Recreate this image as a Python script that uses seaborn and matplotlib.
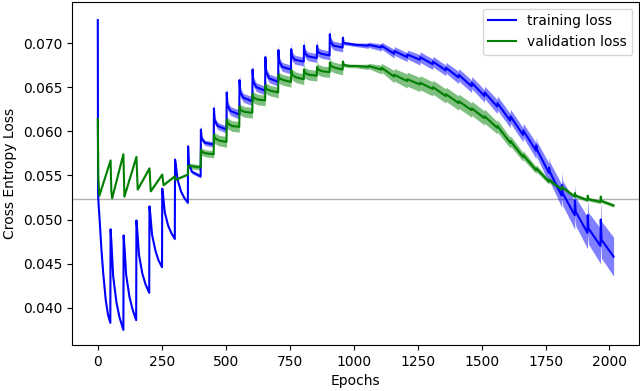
import numpy as np
import matplotlib
matplotlib.use("Agg")
import matplotlib.pyplot as plt
import seaborn as sns

# training loss (mean) and spread of the shaded band
train_epochs = [
    0, 1, 3, 8, 14, 21, 31, 40, 49,
    50, 53, 60, 73, 85, 100,
    101, 104, 111, 124, 136, 150,
    151, 154, 161, 174, 186, 201,
    202, 205, 212, 225, 237, 251,
    252, 255, 262, 275, 287, 301,
    302, 305, 312, 325, 337, 352,
    353, 356, 368, 402,
    403, 406, 418, 453,
    454, 457, 469, 503,
    504, 507, 519, 553,
    554, 557, 569, 604,
    605, 608, 620, 654,
    655, 658, 670, 705,
    706, 709, 721, 755,
    756, 759, 771, 805,
    806, 809, 821, 856,
    857, 860, 872, 906,
    907, 910, 922, 957,
    958, 961, 985,
    1008, 1057, 1058, 1108, 1109, 1158, 1159, 1209, 1210, 1259, 1260, 1309, 1310, 1360,
    1361, 1410, 1411, 1461, 1462, 1511, 1512, 1561, 1562, 1612, 1613, 1662, 1663,
    1713, 1714, 1717, 1763, 1764, 1767, 1813, 1814, 1817, 1864, 1865, 1868,
    1914, 1915, 1918, 1965, 1966, 1969, 2016,
]
train_loss = [
    0.0726, 0.0530, 0.0518, 0.0496, 0.0467, 0.0440, 0.0409, 0.0392, 0.0383,
    0.0489, 0.0475, 0.0436, 0.0406, 0.0389, 0.0375,
    0.0482, 0.0470, 0.0437, 0.0412, 0.0398, 0.0386,
    0.0499, 0.0489, 0.0460, 0.0439, 0.0427, 0.0417,
    0.0515, 0.0507, 0.0483, 0.0465, 0.0454, 0.0446,
    0.0535, 0.0528, 0.0508, 0.0493, 0.0485, 0.0478,
    0.0568, 0.0562, 0.0545, 0.0532, 0.0525, 0.0519,
    0.0583, 0.0563, 0.0554, 0.0549,
    0.0602, 0.0592, 0.0587, 0.0585,
    0.0626, 0.0612, 0.0606, 0.0602,
    0.0644, 0.0629, 0.0623, 0.0619,
    0.0658, 0.0644, 0.0638, 0.0634,
    0.0670, 0.0656, 0.0650, 0.0646,
    0.0684, 0.0667, 0.0660, 0.0656,
    0.0692, 0.0679, 0.0673, 0.0670,
    0.0693, 0.0685, 0.0681, 0.0679,
    0.0697, 0.0689, 0.0685, 0.0683,
    0.0697, 0.0690, 0.0688, 0.0686,
    0.0710, 0.0701, 0.0697, 0.0695,
    0.0706, 0.0700, 0.0699,
    0.0698, 0.0697, 0.0698, 0.0695, 0.0697, 0.0688, 0.0691, 0.0684, 0.0687, 0.0681, 0.0684, 0.0676, 0.0679, 0.0669,
    0.0672, 0.0661, 0.0664, 0.0651, 0.0655, 0.0640, 0.0644, 0.0628, 0.0632, 0.0612, 0.0617, 0.0596, 0.0601,
    0.0578, 0.0584, 0.0579, 0.0553, 0.0559, 0.0554, 0.0527, 0.0539, 0.0530, 0.0505, 0.0522, 0.0509,
    0.0485, 0.0505, 0.0490, 0.0470, 0.0500, 0.0477, 0.0458,
]
train_spread = [
    0.0001, 0.0001, 0.0001, 0.0001, 0.0001, 0.0001, 0.0001, 0.0001, 0.0001,
    0.0001, 0.0001, 0.0001, 0.0001, 0.0001, 0.0001,
    0.0001, 0.0001, 0.0001, 0.0001, 0.0001, 0.0001,
    0.0001, 0.0001, 0.0001, 0.0001, 0.0001, 0.0001,
    0.0001, 0.0001, 0.0001, 0.0001, 0.0001, 0.0001,
    0.0001, 0.0001, 0.0001, 0.0001, 0.0001, 0.0001,
    0.0001, 0.0001, 0.0001, 0.0001, 0.0001, 0.0001,
    0.0003, 0.0002, 0.0002, 0.0002,
    0.0006, 0.0003, 0.0003, 0.0003,
    0.0007, 0.0004, 0.0004, 0.0004,
    0.0008, 0.0005, 0.0005, 0.0005,
    0.0008, 0.0005, 0.0005, 0.0005,
    0.0008, 0.0005, 0.0005, 0.0005,
    0.0008, 0.0005, 0.0005, 0.0005,
    0.0008, 0.0005, 0.0005, 0.0005,
    0.0008, 0.0005, 0.0005, 0.0005,
    0.0008, 0.0005, 0.0005, 0.0005,
    0.0008, 0.0005, 0.0005, 0.0005,
    0.0008, 0.0005, 0.0005, 0.0005,
    0.0004, 0.0002, 0.0002,
    0.0002, 0.0003, 0.0003, 0.0004, 0.0004, 0.0005, 0.0005, 0.0005, 0.0005, 0.0006, 0.0006, 0.0006, 0.0006, 0.0006,
    0.0006, 0.0007, 0.0007, 0.0007, 0.0007, 0.0007, 0.0007, 0.0008, 0.0008, 0.0008, 0.0008, 0.0008, 0.0008,
    0.0009, 0.0010, 0.0009, 0.0011, 0.0012, 0.0011, 0.0013, 0.0015, 0.0014, 0.0016, 0.0018, 0.0016,
    0.0018, 0.0020, 0.0018, 0.0020, 0.0023, 0.0021, 0.0022,
]

# validation loss (mean) and spread
val_epochs = [
    0, 2, 6, 50, 53, 56, 100, 104, 151, 156, 202, 207, 252, 257, 301, 303, 352,
    353, 402,
    403, 407, 423, 453,
    454, 458, 474, 503,
    504, 508, 524, 553,
    554, 558, 574, 604,
    605, 609, 625, 654,
    655, 659, 675, 705,
    706, 710, 726, 755,
    756, 760, 776, 805,
    806, 810, 826, 856,
    857, 861, 877, 906,
    907, 911, 927, 957,
    958, 962, 985,
    1008, 1057, 1058, 1108, 1109, 1158, 1159, 1209, 1210, 1259, 1260, 1309, 1310, 1360,
    1361, 1410, 1411, 1461, 1462, 1511, 1512, 1561, 1562, 1612, 1613, 1662, 1663,
    1713, 1714, 1763, 1764, 1813, 1814, 1864, 1865, 1868,
    1914, 1915, 1918, 1965, 1966, 1969, 2016,
]
val_loss = [
    0.0614, 0.0548, 0.0527, 0.0567, 0.0532, 0.0524, 0.0574, 0.0526, 0.0571, 0.0534, 0.0558, 0.0532, 0.0551, 0.0539, 0.0549, 0.0545, 0.0551,
    0.0561, 0.0559,
    0.0579, 0.05765, 0.0575, 0.0574,
    0.0596, 0.0592, 0.05895, 0.0588,
    0.0613, 0.0609, 0.0606, 0.0605,
    0.0628, 0.0624, 0.0622, 0.0621,
    0.0642, 0.0638, 0.0636, 0.0635,
    0.0652, 0.0648, 0.0646, 0.0644,
    0.0664, 0.0660, 0.0658, 0.0656,
    0.0669, 0.0664, 0.0661, 0.0659,
    0.0670, 0.0666, 0.0664, 0.0663,
    0.0673, 0.0670, 0.0668, 0.0667,
    0.0678, 0.0674, 0.0672, 0.0670,
    0.0679, 0.0675, 0.0674,
    0.0674, 0.0673, 0.0674, 0.0670, 0.0672, 0.0662, 0.0664, 0.0657, 0.0659, 0.0653, 0.0655, 0.0648, 0.0650, 0.0640,
    0.0642, 0.0632, 0.0634, 0.0624, 0.0626, 0.0615, 0.0617, 0.0604, 0.0606, 0.0587, 0.0589, 0.0571, 0.0573,
    0.0556, 0.0558, 0.0543, 0.0545, 0.0534, 0.0537, 0.0526, 0.0530, 0.0527,
    0.0522, 0.0527, 0.0523, 0.0520, 0.0526, 0.0521, 0.0516,
]
val_spread = [
    0.0001, 0.0001, 0.0001, 0.0001, 0.0001, 0.0001, 0.0001, 0.0001, 0.0001, 0.0001, 0.0001, 0.0001, 0.0001, 0.0001, 0.0001, 0.0001, 0.0001,
    0.0003, 0.0003,
    0.0005, 0.0004, 0.0004, 0.0004,
    0.0007, 0.0006, 0.0006, 0.0006,
    0.0007, 0.0006, 0.0006, 0.0006,
    0.0007, 0.0006, 0.0006, 0.0006,
    0.0007, 0.0006, 0.0006, 0.0006,
    0.0007, 0.0006, 0.0006, 0.0006,
    0.0007, 0.0006, 0.0006, 0.0006,
    0.0007, 0.0006, 0.0006, 0.0006,
    0.0007, 0.0006, 0.0006, 0.0006,
    0.0007, 0.0006, 0.0006, 0.0006,
    0.0007, 0.0006, 0.0006, 0.0006,
    0.0003, 0.0002, 0.0002,
    0.0002, 0.0003, 0.0003, 0.0005, 0.0005, 0.0007, 0.0007, 0.0008, 0.0008, 0.0008, 0.0008, 0.0008, 0.0008, 0.0008,
    0.0008, 0.0008, 0.0008, 0.0008, 0.0008, 0.0008, 0.0008, 0.0007, 0.0007, 0.0006, 0.0006, 0.0005, 0.0005,
    0.0004, 0.0004, 0.0003, 0.0003, 0.0002, 0.0002, 0.0002, 0.0002, 0.0002,
    0.0002, 0.0002, 0.0002, 0.0002, 0.0002, 0.0002, 0.0002,
]

baseline = 0.05235

fig = plt.figure(figsize=(6.4, 3.91), dpi=100)
ax = fig.add_subplot(111)
fig.subplots_adjust(left=0.1125, right=0.999, bottom=0.118, top=0.996)

ax.axhline(baseline, color='#b0b0b0', linewidth=1, zorder=1)

tr_x = np.array(train_epochs)
tr_m = np.array(train_loss)
tr_s = np.array(train_spread)
ax.fill_between(tr_x, tr_m - tr_s, tr_m + tr_s, color='blue', alpha=0.5, linewidth=0)
sns.lineplot(x=tr_x, y=tr_m, color='blue', linewidth=1.5, label='training loss',
             errorbar=None, sort=False, ax=ax)

va_x = np.array(val_epochs)
va_m = np.array(val_loss)
va_s = np.array(val_spread)
ax.fill_between(va_x, va_m - va_s, va_m + va_s, color='green', alpha=0.5, linewidth=0)
sns.lineplot(x=va_x, y=va_m, color='green', linewidth=1.5, label='validation loss',
             errorbar=None, sort=False, ax=ax)

ax.set_ylim(0.0358, 0.0747)
ax.set_xlabel('Epochs')
ax.set_ylabel('Cross Entropy Loss')
ax.legend(loc='upper right')

fig.savefig('out.png', dpi=100)
